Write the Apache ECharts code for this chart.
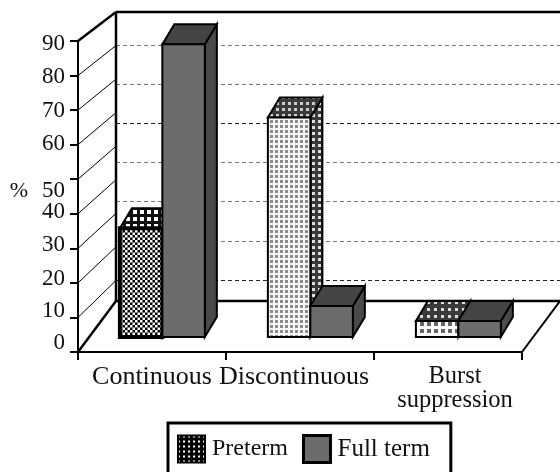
<!DOCTYPE html>
<html>
<head>
<meta charset="utf-8">
<style>
  html, body { margin: 0; padding: 0; background: #fff; }
  #chart { width: 560px; height: 472px; }
</style>
<script src="https://cdn.jsdelivr.net/npm/echarts@6/dist/echarts.min.js"></script>
</head>
<body>
<div id="chart"></div>
<script>
const categories = ["Continuous", "Discontinuous", "Burst\nsuppression"];
const preterm = [31.5, 63.5, 4.6];
const fullTerm = [84.7, 9, 4.6];
const yMax = 90;
const yStep = 10;
const wallLines = [10, 20, 30, 40, 50, 60, 70];

const FONT = '"Liberation Serif", serif';
const INK = "#111";

function pattern(bg, fg, period, dot, stagger) {
  const c = document.createElement("canvas");
  c.width = period;
  c.height = period;
  const g = c.getContext("2d");
  g.fillStyle = bg;
  g.fillRect(0, 0, period, period);
  g.fillStyle = fg;
  g.fillRect(0, 0, dot, dot);
  if (stagger) g.fillRect(period / 2, period / 2, dot, dot);
  return { image: c, repeat: "repeat" };
}

// one look per category for the preterm bars, the scan shows three different screens
const pretermLook = [
  { front: pattern("#000", "#fff", 5, 2.5, true), top: pattern("#111", "#fff", 7, 4, false), side: "#111", width: 4 },
  { front: pattern("#f6f6f6", "#8a8a8a", 5, 3, false), top: pattern("#3a3a3a", "#ccc", 6, 3, false), side: pattern("#3a3a3a", "#ddd", 6, 3, false), width: 2 },
  { front: pattern("#fafafa", "#666", 7, 4, false), top: pattern("#3a3a3a", "#ddd", 7, 3, false), side: pattern("#3a3a3a", "#ddd", 7, 3, false), width: 2 },
];
const fullLook = { front: "#6c6c6c", top: "#444", side: "#4a4a4a", width: 2 };

// bar depth and how far the bars stand in from the front of the floor
const DEPTH_X = 12;
const DEPTH_Y = 20;
const BASE_LIFT = 15;
const WALL_X = 38;

function face(points, fill, lineWidth) {
  return {
    type: "polygon",
    shape: { points },
    style: { fill, stroke: "#000", lineWidth, lineJoin: "miter" },
  };
}

function barRenderer(slot, lookAt) {
  return function (params, api) {
    const idx = api.value(0);
    const top = api.coord([idx, api.value(1)]);
    const base = api.coord([idx, 0]);
    const band = api.size([1, 0])[0];
    const w = band * 0.287;
    const x0 = top[0] + band * 0.07 + (slot - 1) * w;
    const x1 = x0 + w;
    const yt = top[1] - BASE_LIFT;
    const yb = base[1] - BASE_LIFT;
    const look = lookAt(idx);
    return {
      type: "group",
      children: [
        face([[x1, yt], [x1 + DEPTH_X, yt - DEPTH_Y], [x1 + DEPTH_X, yb - DEPTH_Y], [x1, yb]], look.side, 2),
        face([[x0, yt], [x0 + DEPTH_X, yt - DEPTH_Y], [x1 + DEPTH_X, yt - DEPTH_Y], [x1, yt]], look.top, 2),
        face([[x0, yt], [x1, yt], [x1, yb], [x0, yb]], look.front, look.width),
      ],
    };
  };
}

function seg(x1, y1, x2, y2, lineWidth) {
  return { type: "line", shape: { x1, y1, x2, y2 }, style: { stroke: "#000", lineWidth } };
}

// left wall, floor and back wall outline, hung off the y axis ticks
function frameRenderer(params, api) {
  const v = api.value(1);
  const p = api.coord([0, v]);
  const band = api.size([1, 0])[0];
  const left = p[0] - band / 2;
  const right = api.coord([2, v])[0] + band / 2;
  const drop = v === 0 ? 51 : 29 + (yMax - v) * 0.1;
  const w = v === 0 || v === yMax ? 2.5 : 1;
  const wy = p[1] - drop;
  const children = [seg(left, p[1], left + WALL_X, wy, w)];
  if (v === 0) {
    children.push(seg(right, p[1], right + WALL_X, wy, 2), seg(left + WALL_X, wy, right + WALL_X, wy, 2.5));
  }
  if (v === yMax) {
    const floorY = api.coord([0, 0])[1] - 51;
    children.push(seg(left + WALL_X, wy, right + WALL_X, wy, 2.5), seg(left + WALL_X, wy, left + WALL_X, floorY, 2.5));
  }
  return { type: "group", children };
}

const yTicks = [];
for (let v = 0; v <= yMax; v += yStep) yTicks.push([0, v]);

// the scan has its y labels drifting off the ticks, nudges in px (+ is down)
const yNudge = { 0: -9, 10: -6, 20: -4, 30: -3, 40: -2, 50: 12, 60: -1, 70: 1, 80: 1, 90: 3 };
const yRich = {};
Object.keys(yNudge).forEach((k) => {
  const n = yNudge[k];
  yRich["t" + k] = { fontFamily: FONT, fontSize: 23, color: INK, padding: n > 0 ? [2 * n, 0, 0, 0] : [0, 0, -2 * n, 0] };
});

const xRich = {
  c0: { fontFamily: FONT, fontSize: 26, color: INK, lineHeight: 24 },
  c1: { fontFamily: FONT, fontSize: 26, color: INK, lineHeight: 24, padding: [0, 12, 0, 0] },
  c2: { fontFamily: FONT, fontSize: 24.5, color: INK, lineHeight: 24, padding: [0, 0, 0, 14] },
};

const chart = echarts.init(document.getElementById("chart"), null, { renderer: "canvas" });
chart.setOption({
  animation: false,
  backgroundColor: "#fff",
  grid: [
    { left: 78, width: 444, top: 41, height: 311 },
    { left: 116, width: 444, top: 45, height: 235 },
  ],
  legend: {
    left: 168,
    top: 423,
    orient: "horizontal",
    padding: [11, 21, 40, 9],
    itemWidth: 27,
    itemHeight: 27,
    itemGap: 14,
    borderColor: "#000",
    borderWidth: 3,
    textStyle: { fontFamily: FONT, fontSize: 24, color: INK, padding: [0, 0, 0, 2] },
    data: [
      { name: "Preterm", icon: "rect", itemStyle: { color: pattern("#000", "#fff", 5, 2, false), borderColor: "#000", borderWidth: 2 } },
      { name: "Full term", icon: "rect", textStyle: { fontFamily: FONT, fontSize: 25, color: INK, padding: [0, 0, 0, 2] }, itemStyle: { color: fullLook.front, borderColor: "#000", borderWidth: 3 } },
    ],
  },
  xAxis: [
    {
      type: "category",
      data: categories,
      gridIndex: 0,
      axisLine: { lineStyle: { color: "#000", width: 2 } },
      axisTick: { show: true, alignWithLabel: false, interval: 0, length: 8, lineStyle: { color: "#000", width: 2 } },
      axisLabel: {
        margin: 13,
        interval: 0,
        formatter: (value, i) => value.split("\n").map((s) => "{c" + i + "|" + s + "}").join("\n"),
        rich: xRich,
      },
    },
    { type: "value", gridIndex: 1, show: false, min: 0, max: 1 },
  ],
  yAxis: [
    {
      type: "value",
      gridIndex: 0,
      min: 0,
      max: yMax,
      interval: yStep,
      name: "{p|%}",
      nameLocation: "middle",
      nameGap: 50,
      nameRotate: 0,
      nameTextStyle: {
        rich: { p: { fontFamily: FONT, fontSize: 22, color: INK, padding: [0, 0, 10, 0] } },
      },
      axisLine: { show: true, lineStyle: { color: "#000", width: 2 } },
      axisTick: { show: true, length: 8, lineStyle: { color: "#000", width: 2 } },
      axisLabel: {
        margin: 13,
        formatter: (v) => "{t" + v + "|" + v + "}",
        rich: yRich,
      },
      splitLine: { show: false },
    },
    {
      type: "value",
      gridIndex: 1,
      min: wallLines[0],
      max: wallLines[wallLines.length - 1],
      interval: yStep,
      axisLine: { show: false },
      axisTick: { show: false },
      axisLabel: { show: false },
      splitLine: {
        show: true,
        lineStyle: {
          type: [4, 3],
          width: 1,
          color: ["#222", "#777", "#777", "#777", "#222", "#777", "#777"],
        },
      },
    },
  ],
  series: [
    {
      name: "frame",
      type: "custom",
      coordinateSystem: "cartesian2d",
      xAxisIndex: 0,
      yAxisIndex: 0,
      silent: true,
      clip: false,
      z: 1,
      data: yTicks,
      encode: { x: 0, y: 1 },
      renderItem: frameRenderer,
    },
    {
      name: "Preterm",
      type: "custom",
      xAxisIndex: 0,
      yAxisIndex: 0,
      clip: false,
      z: 3,
      data: preterm.map((v, i) => [i, v]),
      encode: { x: 0, y: 1 },
      renderItem: barRenderer(0, (i) => pretermLook[i]),
    },
    {
      name: "Full term",
      type: "custom",
      xAxisIndex: 0,
      yAxisIndex: 0,
      clip: false,
      z: 4,
      data: fullTerm.map((v, i) => [i, v]),
      encode: { x: 0, y: 1 },
      renderItem: barRenderer(1, () => fullLook),
    },
  ],
});
</script>
</body>
</html>
